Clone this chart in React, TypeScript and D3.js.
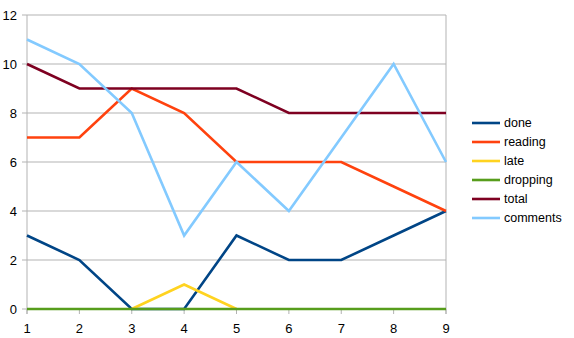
import React from "react";
import * as d3 from "d3";

const xValues = [1, 2, 3, 4, 5, 6, 7, 8, 9];
const yTicks = [0, 2, 4, 6, 8, 10, 12];
const seriesNames = ["done", "reading", "late", "dropping", "total", "comments"];
const colors = ["#004586", "#ff420e", "#ffd320", "#579d1c", "#7e0021", "#83caff"];
const done = [3, 2, 0, 0, 3, 2, 2, 3, 4];
const reading = [7, 7, 9, 8, 6, 6, 6, 5, 4];
const late: (number | null)[] = [null, null, 0, 1, 0, null, null, null, null];
const dropping = [0, 0, 0, 0, 0, 0, 0, 0, 0];
const total = [10, 9, 9, 9, 9, 8, 8, 8, 8];
const comments = [11, 10, 8, 3, 6, 4, 7, 10, 6];

const seriesValues = [done, reading, late, dropping, total, comments];

export default function App() {
  const W = 574, H = 338;
  const left = 27, right = 446, top = 15, bottom = 309;
  const x = d3.scaleLinear().domain([1, 9]).range([left, right]);
  const y = d3.scaleLinear().domain([0, 12]).range([bottom, top]);
  const line = d3
    .line<number | null>()
    .defined((d) => d !== null)
    .x((_, i) => x(xValues[i]))
    .y((d) => y(d as number));
  const font = "'Liberation Sans', Arial, sans-serif";
  return (
    <svg width={W} height={H} style={{ position: "absolute", left: 0, top: 0, background: "#fff" }}>
      <rect x={0} y={0} width={W} height={H} fill="#fff" />
      {yTicks.map((t) => (
        <g key={t}>
          <line x1={left - 5} x2={right} y1={y(t)} y2={y(t)} stroke="#b3b3b3" strokeWidth={1} />
          <text x={17} y={y(t)} dy="0.35em" textAnchor="end" fontFamily={font} fontSize={13} fill="#000">
            {t}
          </text>
        </g>
      ))}
      <line x1={left} x2={left} y1={top} y2={bottom + 5} stroke="#b3b3b3" strokeWidth={1} />
      <line x1={right} x2={right} y1={top} y2={bottom + 5} stroke="#b3b3b3" strokeWidth={1} />
      {xValues.map((v) => (
        <g key={v}>
          <line x1={x(v)} x2={x(v)} y1={bottom} y2={bottom + 5} stroke="#b3b3b3" strokeWidth={1} />
          <text x={x(v)} y={bottom + 19} dy="0.35em" textAnchor="middle" fontFamily={font} fontSize={13} fill="#000">
            {v}
          </text>
        </g>
      ))}
      {seriesValues.map((vals, i) => (
        <path
          key={seriesNames[i]}
          d={line(vals) || ""}
          fill="none"
          stroke={colors[i]}
          strokeWidth={2.6}
          strokeLinejoin="miter"
        />
      ))}
      {seriesNames.map((n, i) => (
        <g key={n} transform={`translate(472, ${123 + i * 19})`}>
          <line x1={0} x2={28} y1={0} y2={0} stroke={colors[i]} strokeWidth={2.6} />
          <text x={32} y={0} dy="0.35em" fontFamily={font} fontSize={12.5} fill="#000">
            {n}
          </text>
        </g>
      ))}
    </svg>
  );
}
